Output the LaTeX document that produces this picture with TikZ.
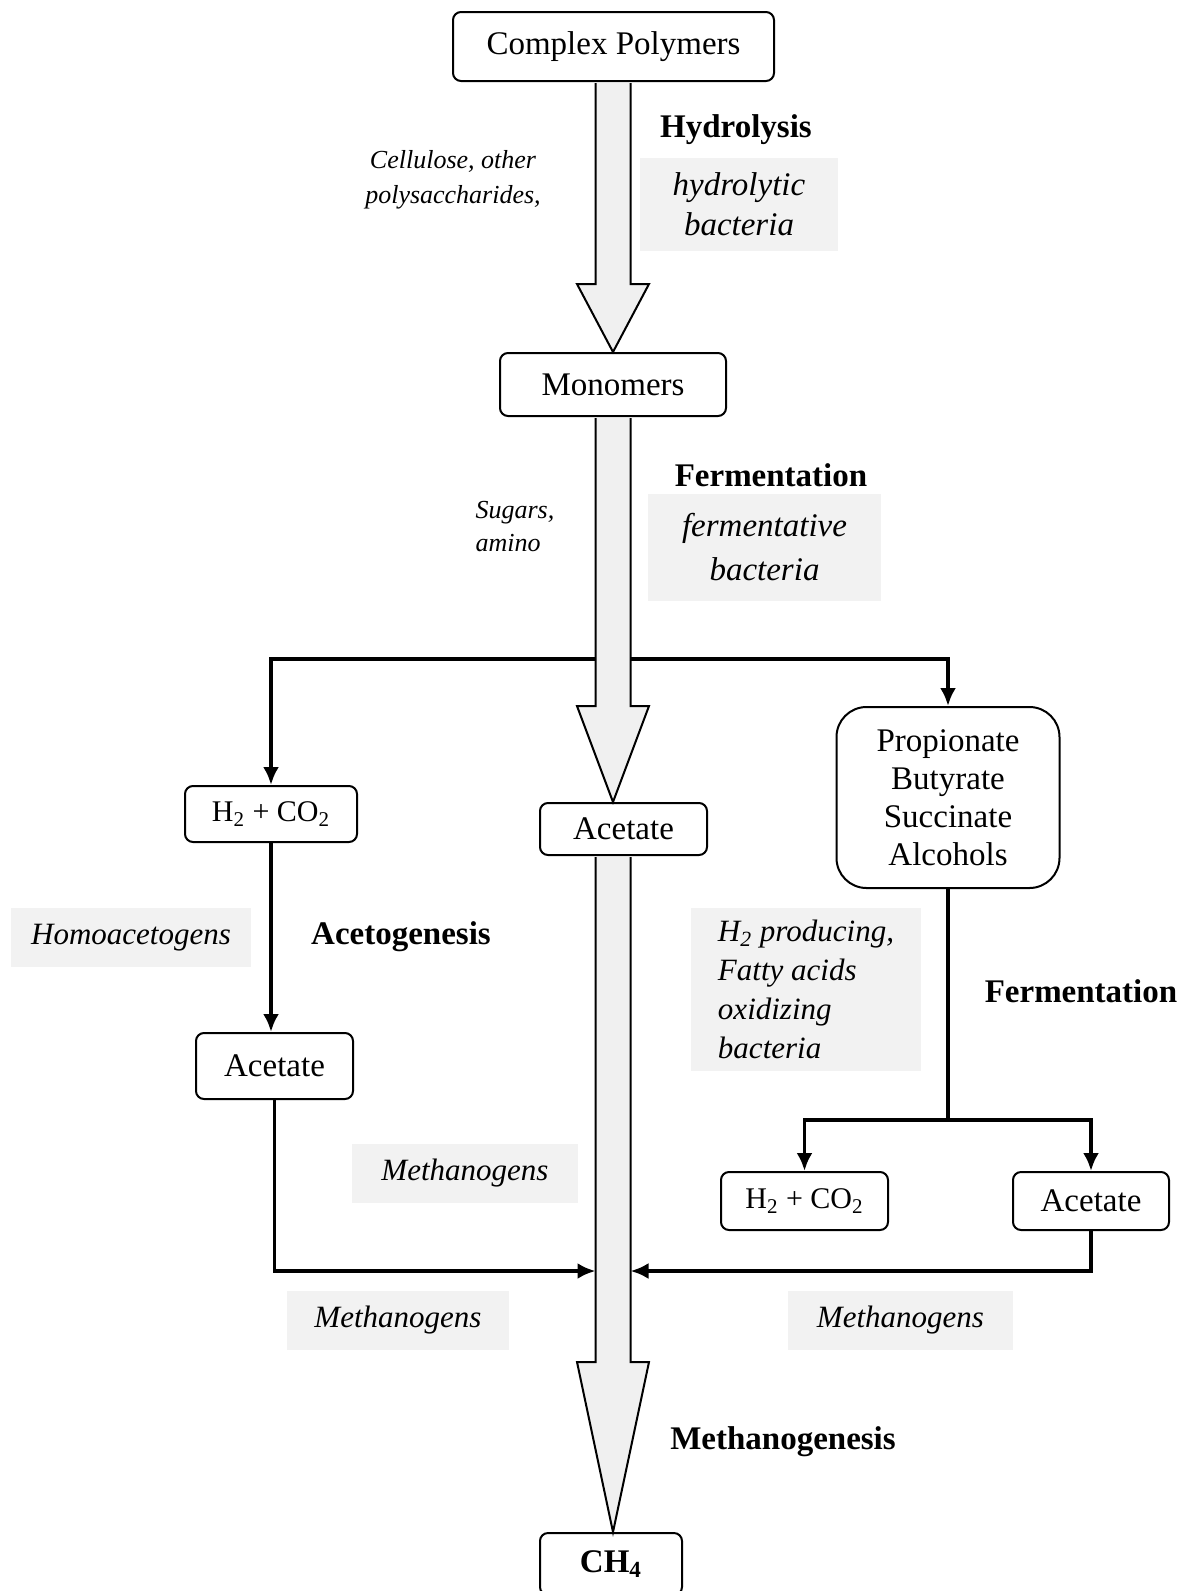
\documentclass[tikz,border=0pt]{standalone}
\usepackage{fontspec}
\setmainfont{Liberation Serif}
\usetikzlibrary{arrows.meta,calc}
\definecolor{tintgrey}{RGB}{242,242,242}
\definecolor{shaftgrey}{RGB}{240,240,240}
\tikzset{
  box/.style={draw, line width=1pt, rounded corners=4pt, fill=white, inner sep=0pt, align=center},
  tint/.style={fill=tintgrey, inner sep=0pt, align=center, font=\itshape\fontsize{15.5}{19.5}\selectfont},
  phase/.style={inner sep=0pt, font=\bfseries\fontsize{16.5}{20}\selectfont},
  link/.style={line width=1.8pt, >={Latex[length=9pt,width=8pt]}},
  fat/.style={draw, line width=1pt, fill=shaftgrey}
}
\newcommand{\fatarrow}[3]{%
  \draw[fat] ($(Axis |- #1.south)+(-17.5,1)$) -- ($(Axis |- #2.north)+(-17.5,-#3)$)
    -- ($(Axis |- #2.north)+(-36,-#3)$) -- (Axis |- #2.north)
    -- ($(Axis |- #2.north)+(36,-#3)$) -- ($(Axis |- #2.north)+(17.5,-#3)$)
    -- ($(Axis |- #1.south)+(17.5,1)$);}

\begin{document}
\begin{tikzpicture}[x=0.5pt, y=-0.5pt, font=\fontsize{16.5}{19}\selectfont]
	\useasboundingbox (0,0) rectangle (1182,1591);
	\coordinate (Axis) at (613,0);
	\coordinate (Split) at (613,659);
	\coordinate (Fork) at (948,1120);
	\coordinate (MergeL) at (595.5,1271);
	\coordinate (MergeR) at (630.5,1271);

	\node[box, minimum width=160.5pt, minimum height=34.5pt] (Polymers) at (613.5,46.5) {Complex Polymers};
	\node[box, minimum width=113pt, minimum height=31.5pt] (Monomers) at (613,384.5) {Monomers};
	\node[phase] (Hydrolysis) at (736,130) {Hydrolysis};
	\node[tint, minimum width=99pt, minimum height=46.5pt, font=\itshape\fontsize{16.5}{20}\selectfont] (HydroBac) at (739,204.5) {hydrolytic\\bacteria};
	\node[align=center, inner sep=0pt, font=\itshape\fontsize{13}{17.5}\selectfont] (Cellulose) at (453,179.5) {Cellulose, other\\polysaccharides,};

	\node[phase] (Fermentation) at (771,475) {Fermentation};
	\node[tint, minimum width=116.5pt, minimum height=53.5pt, font=\itshape\fontsize{16.5}{22}\selectfont] (FermBac) at (764.5,547.5) {fermentative\\bacteria};
	\node[align=left, inner sep=0pt, font=\itshape\fontsize{13}{16.5}\selectfont] (Sugars) at (515,526.5) {Sugars,\\amino};

	\node[box, minimum width=86pt, minimum height=28pt, font=\fontsize{15}{18}\selectfont] (H2Left) at (271,814) {H\textsubscript{2} + CO\textsubscript{2}};
	\node[box, minimum width=83.5pt, minimum height=26pt] (AcetateMid) at (623.5,829) {Acetate};
	\node[box, rounded corners=15pt, minimum width=111.5pt, minimum height=90.5pt] (Acids) at (948,797.5) {Propionate\\Butyrate\\Succinate\\Alcohols};

	\node[tint, minimum width=120pt, minimum height=29.5pt] (Homo) at (131,937.5) {Homoacetogens};
	\node[phase] (Acetogenesis) at (401,937) {Acetogenesis};
	\node[box, minimum width=78.5pt, minimum height=33pt] (AcetateLeft) at (274.5,1066) {Acetate};

	\node[tint, align=left, minimum width=115pt, minimum height=81.5pt] (Oxidizers) at (806,989.5) {H\textsubscript{2} producing,\\Fatty acids\\oxidizing\\bacteria};
	\node[phase] (FermentationB) at (1081,991) {Fermentation};
	\node[box, minimum width=83.5pt, minimum height=29pt, font=\fontsize{15}{18}\selectfont] (H2Right) at (804.5,1201) {H\textsubscript{2} + CO\textsubscript{2}};
	\node[box, minimum width=78pt, minimum height=29pt] (AcetateRight) at (1091,1201) {Acetate};

	\node[tint, minimum width=113pt, minimum height=29.5pt] (MethMid) at (465,1173.5) {Methanogens};
	\node[tint, minimum width=111pt, minimum height=29.5pt] (MethLeft) at (398,1320.5) {Methanogens};
	\node[tint, minimum width=112.5pt, minimum height=29.5pt] (MethRight) at (900.5,1320.5) {Methanogens};
	\node[phase] (Methanogenesis) at (783,1442) {Methanogenesis};
	\node[box, minimum width=71pt, minimum height=31pt, font=\bfseries\fontsize{16.5}{19}\selectfont] (Methane) at (611,1564) {CH\textsubscript{4}};

	\draw[link, ->] (Split) -| (H2Left.north);
	\draw[link, ->] (Split) -| (Acids.north);
	\draw[link, ->] (H2Left.south) -- (H2Left.south |- AcetateLeft.north);
	\draw[link] (Acids.south) -- (Fork);
	\draw[link, ->] (Fork) -| (H2Right.north);
	\draw[link, ->] (Fork) -| (AcetateRight.north);
	\draw[link, ->] (AcetateLeft.south) |- (MergeL);
	\draw[link, ->] (AcetateRight.south) |- (MergeR);

	\fatarrow{Polymers}{Monomers}{68}
	\fatarrow{Monomers}{AcetateMid}{96}
	\fatarrow{AcetateMid}{Methane}{170}
\end{tikzpicture}
\end{document}
